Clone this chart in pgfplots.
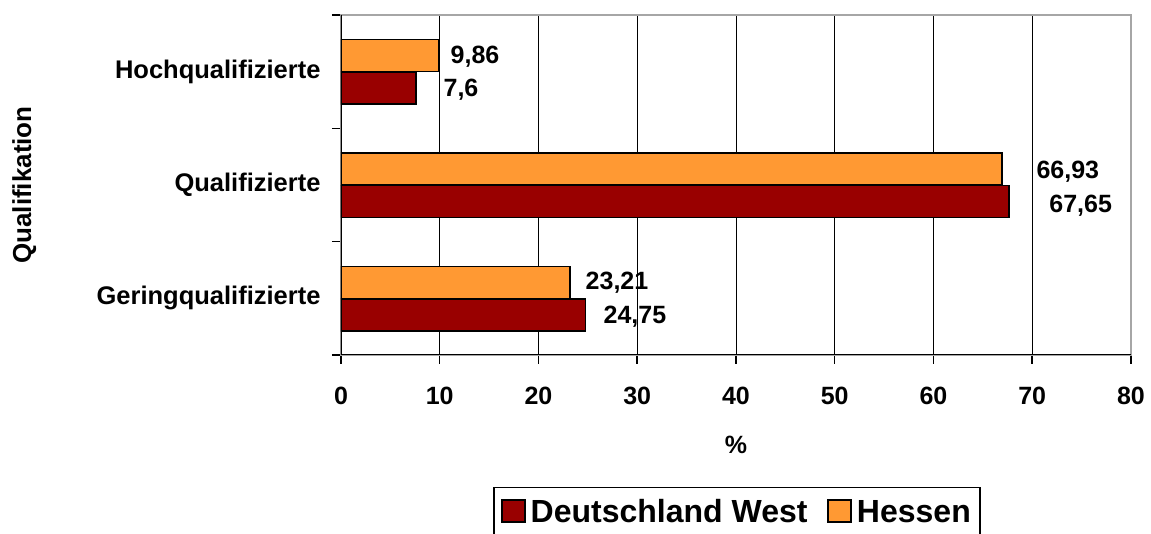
\documentclass[border=0pt]{standalone}
\usepackage{pgfplots}
\pgfplotsset{compat=1.18}
\usepackage{fontspec}
\setmainfont{Liberation Sans}
\definecolor{westred}{HTML}{990000}
\definecolor{hessor}{HTML}{FF9933}
\begin{document}
\begin{tikzpicture}[x=1pt,y=1pt]
\useasboundingbox (-341,-179) rectangle (810,355);
\begin{axis}[
  at={(0,0)}, anchor=south west,
  scale only axis, width=790pt, height=340pt,
  xbar, bar width=32pt,
  xmin=0, xmax=80, ymin=-0.5, ymax=2.5,
  xtick={0,10,...,80},
  ytick={-0.5,0.5,1.5,2.5}, yticklabels={},
  extra y ticks={0,1,2},
  extra y tick labels={Geringqualifizierte,Qualifizierte,Hochqualifizierte},
  extra y tick style={major tick length=0pt, grid=none,
    yticklabel style={xshift=-17pt, font=\fontsize{25.5}{26}\selectfont\bfseries}},
  xmajorgrids, grid style={black, line width=0.8pt},
  axis line style={draw=gray!70, line width=1.5pt},
  tick pos=left, tick align=outside, major tick length=9pt,
  tick style={black, line width=1.5pt},
  ticklabel style={font=\fontsize{25}{25}\selectfont\bfseries},
  xticklabel style={yshift=-20pt},
  /pgf/number format/assume math mode=true,
  xlabel={\%},
  xlabel style={at={(axis description cs:0.5,-0.2647)}, anchor=center, font=\fontsize{25}{25}\selectfont\bfseries},
  ylabel={Qualifikation},
  ylabel style={at={(axis description cs:-0.401,0.5)}, anchor=center, font=\fontsize{26}{26}\selectfont\bfseries},
  legend style={at={(0.5013,-0.388)}, anchor=north, legend columns=2, draw=black, line width=1.5pt,
    font=\fontsize{32}{32}\selectfont\bfseries, inner xsep=7pt, inner ysep=10pt,
    /tikz/every odd column/.append style={column sep=3pt},
    /tikz/every even column/.append style={column sep=18pt}},
  legend image code/.code={\draw[#1,draw=black,line width=1.5pt] (0pt,-10pt) rectangle (23pt,12pt);},
]
\addplot[fill=westred, draw=black, line width=1.5pt, bar shift=-16.5pt]
  coordinates {(24.75,0) (67.65,1) (7.6,2)};
\addplot[fill=hessor, draw=black, line width=1.5pt, bar shift=16pt]
  coordinates {(23.21,0) (66.93,1) (9.86,2)};
\legend{Deutschland West, Hessen}
\draw[black, line width=1.8pt] (rel axis cs:0,1) -- (rel axis cs:0,0) -- (rel axis cs:1,0);
\begin{scope}[every node/.style={font=\fontsize{25}{25}\selectfont\bfseries}]
\node at (axis cs:13.57,2.129) {9,86};
\node at (axis cs:12.15,1.838) {7,6};
\node at (axis cs:73.6,1.115) {66,93};
\node at (axis cs:74.9,0.815) {67,65};
\node at (axis cs:27.95,0.135) {23,21};
\node at (axis cs:29.77,-0.165) {24,75};
\end{scope}
\end{axis}
\end{tikzpicture}
\end{document}
